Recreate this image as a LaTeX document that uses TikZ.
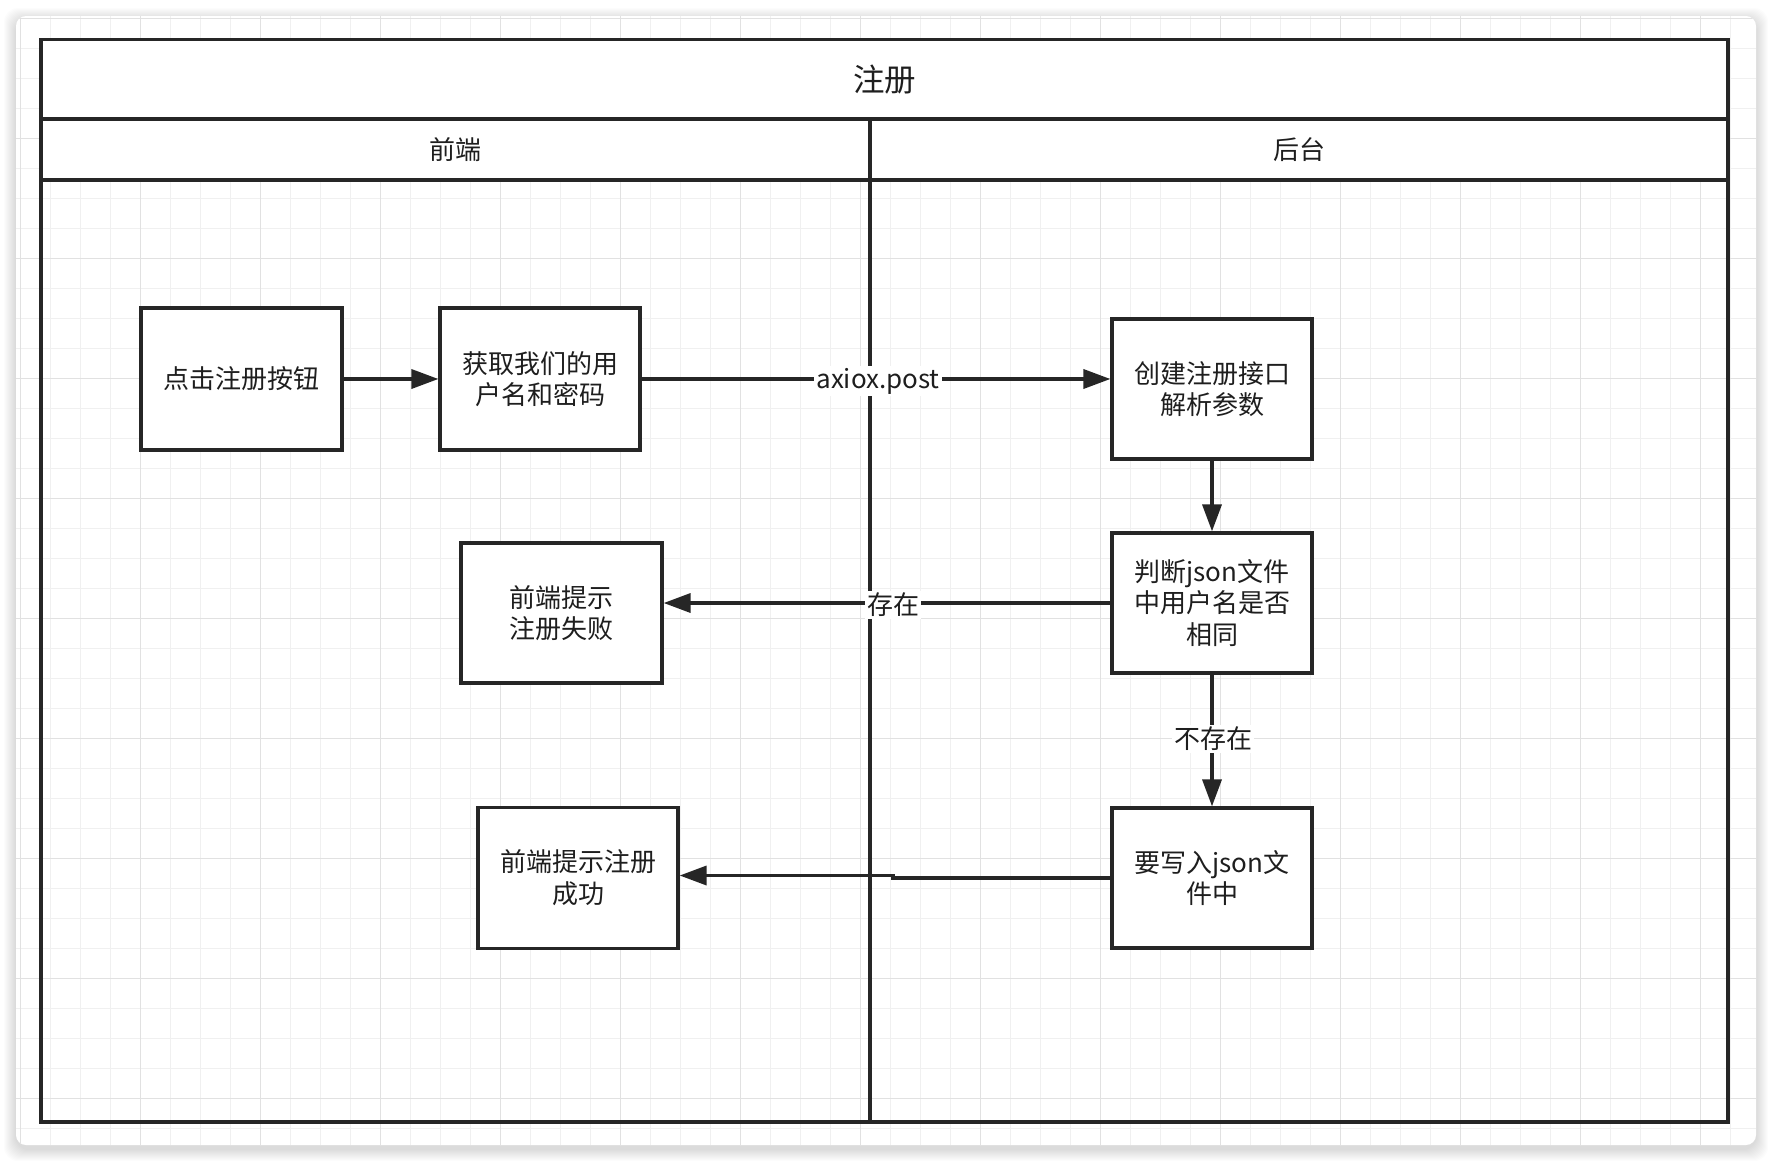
\documentclass[tikz,border=0pt]{standalone}
\usepackage{fontspec}
\newfontfamily\cjk{Noto Sans CJK SC}
\usetikzlibrary{arrows.meta}
\definecolor{ink}{RGB}{38,38,38}
\definecolor{txt}{RGB}{30,30,30}
\definecolor{gmin}{RGB}{240,240,240}
\definecolor{gmaj}{RGB}{225,225,225}
\begin{document}
\begin{tikzpicture}[x=1pt,y=-1pt,
  box/.style={draw=ink, line width=3.2pt, fill=white, minimum width=200pt, minimum height=140pt,
    align=center, font=\cjk\fontsize{26}{31.5}\selectfont, text=txt, inner sep=0pt},
  arr/.style={draw=ink, line width=3.5pt, -{Triangle[length=27pt,width=19pt]}},
  lbl/.style={fill=white, font=\cjk\fontsize{26}{31.5}\selectfont, text=txt, inner sep=2pt},
  head/.style={font=\cjk\fontsize{26}{31.5}\selectfont, text=txt},
  pool/.style={draw=ink, line width=3.5pt}
]
\useasboundingbox (0,0) rectangle (1772,1162);
% card shadow
\foreach \i in {1,...,12} {
  \fill[black, opacity=0.012, rounded corners=14pt] (16-\i,16-\i+4) rectangle (1756+\i,1145+\i+4);
}
\fill[white, rounded corners=10pt] (16,16) rectangle (1756,1145);
\begin{scope}
  \clip[rounded corners=10pt] (16,16) rectangle (1756,1145);
  \foreach \x in {20.7,50.7,...,1760} \draw[gmin, line width=1.5pt] (\x,16) -- (\x,1145);
  \foreach \y in {18.3,48.3,...,1150} \draw[gmin, line width=1.5pt] (16,\y) -- (1756,\y);
  \foreach \x in {20.7,140.7,...,1760} \draw[gmaj, line width=1.5pt] (\x,16) -- (\x,1145);
  \foreach \y in {18.3,138.3,...,1150} \draw[gmaj, line width=1.5pt] (16,\y) -- (1756,\y);
\end{scope}
% pool
\fill[white] (41,39.5) rectangle (1728,180);
\node[font=\cjk\fontsize{31.5}{36}\selectfont, text=txt] (title) at (884.5,80) {注册};
\node[head] (front) at (455.5,150) {前端};
\node[head] (back) at (1299,150) {后台};
\draw[pool] (41,39.5) rectangle (1728,1122);
\draw[pool] (41,119) -- (1728,119);
\draw[pool] (41,180) -- (1728,180);
\draw[pool] (870,119) -- (870,1122);
% boxes
\node[box, minimum width=201pt, minimum height=142pt] (B1) at (241.5,379) {点击注册按钮};
\node[box, minimum height=142pt] (B2) at (540,379) {获取我们的用\\户名和密码};
\node[box] (B3) at (1212,389) {创建注册接口\\解析参数};
\node[box] (B4) at (1212,603) {判断json文件\\中用户名是否\\相同};
\node[box] (B5) at (1212,878) {要写入json文\\件中};
\node[box, minimum width=201pt] (B6) at (561.5,613) {前端提示\\注册失败};
\node[box, minimum height=141pt] (B7) at (578,877.6) {前端提示注册\\成功};
% connectors
\draw[arr] (B1.east) -- (B2.west);
\draw[arr] (B2.east) -- (B2.east -| B3.west);
\node[lbl] (lpost) at (878,381) {axiox.post};
\draw[arr] (B3.south) -- (B4.north);
\draw[arr] (B4.west) -- (B4.west -| B6.east);
\node[lbl] (lexist) at (893,605) {存在};
\draw[arr] (B4.south) -- (B5.north);
\node[lbl] (lnot) at (1213,739) {不存在};
\coordinate (j1) at (893,878);
\coordinate (j2) at (893,875.5);
\draw[arr] (B5.west) -- (j1) -- (j2) -- (j2 -| B7.east);
\end{tikzpicture}
\end{document}
